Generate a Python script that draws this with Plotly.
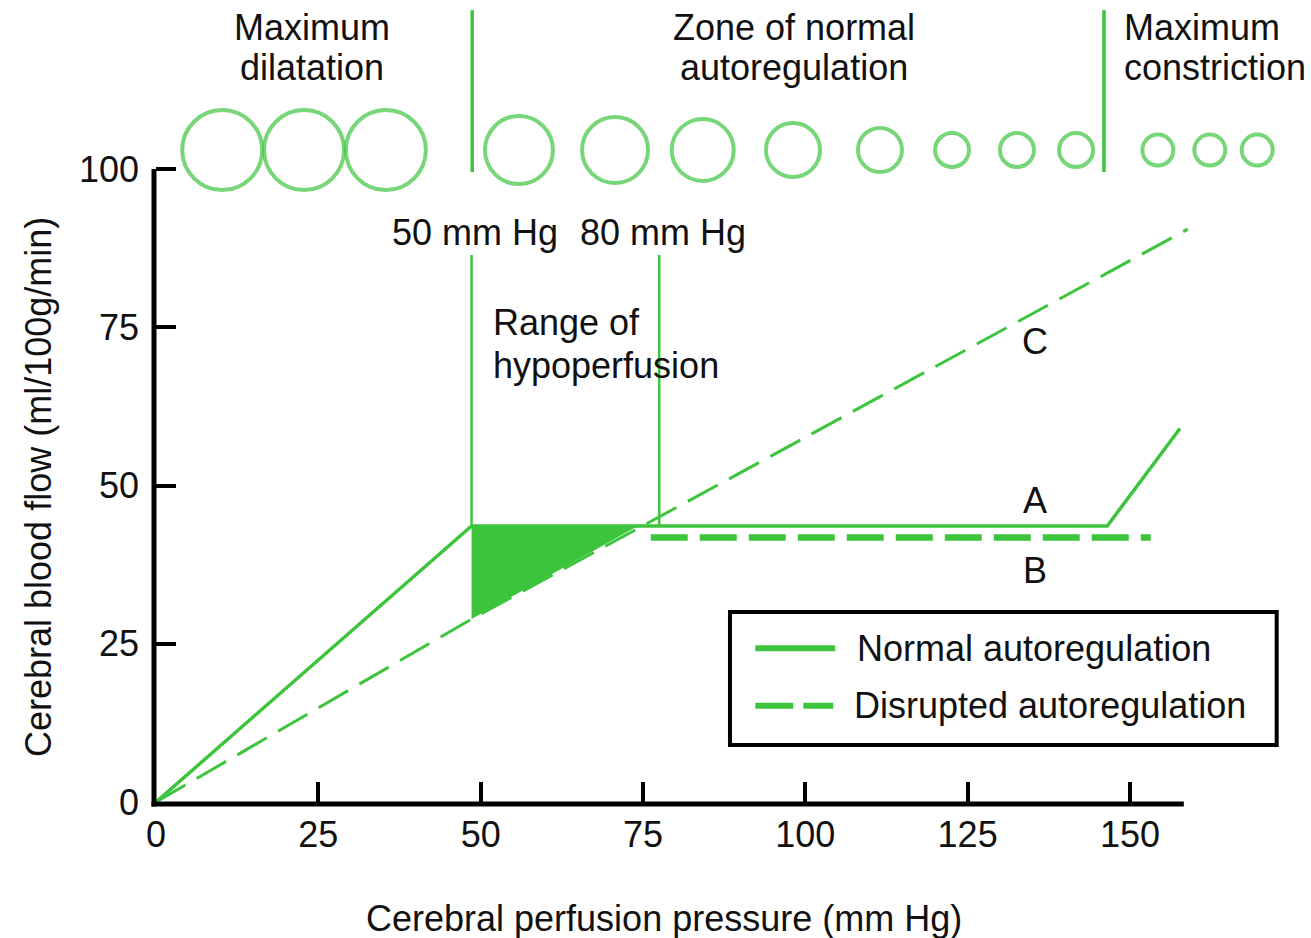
import plotly.graph_objects as go

# ---------------- data ----------------
GREEN = "#3dc43d"
INK = "#111111"
FONT = "Liberation Sans, Arial, Helvetica, sans-serif"

x_ticks = [0, 25, 50, 75, 100, 125, 150]
y_ticks = [0, 25, 50, 75, 100]
x_title = "Cerebral perfusion pressure (mm Hg)"
y_title = "Cerebral blood flow (ml/100g/min)"

# Normal autoregulation (curve A)
normal_x = [0, 48.6, 146.5, 157.7]
normal_y = [0, 43.6, 43.6, 59.0]

# Disrupted autoregulation, pressure-passive curve C
disrupted_c_x = [0, 48.6, 158.9]
disrupted_c_y = [0, 28.9, 90.5]

# Disrupted autoregulation, curve B
disrupted_b_x = [76.2, 153.2]
disrupted_b_y = [41.8, 41.8]

# Range of hypoperfusion (filled wedge)
hypo_x = [48.6, 48.6, 74.2, 48.6]
hypo_y = [43.6, 28.9, 43.6, 43.6]

# 50 / 80 mm Hg markers
threshold_x = [48.6, 77.5]
threshold_labels = ["50 mm Hg", "80 mm Hg"]
threshold_bottom = 43.6
threshold_top = 86.4

# Vessel calibre sketches (pressure position, outer diameter in px)
vessel_x = [10.2, 22.8, 35.4, 55.9, 70.7, 84.2, 98.1, 111.5, 122.6, 132.6, 141.7, 154.3, 162.3, 169.6]
vessel_d = [84, 84, 84, 72, 70, 66, 58, 48, 38, 38, 38, 35, 35, 35]
vessel_y = 103.0

# zone separators at the top
zone_sep_x = [48.7, 146.0]
zone_sep_y = [99.5, 125.1]

curve_labels = ["C", "A", "B"]
curve_label_y = [72.7, 47.7, 36.5]
curve_label_x = 135.4

# ---------------- geometry ----------------
W, H = 1311, 938
L, B = 156, 136
PX_X, PX_Y = 6.493, 6.33
XMAX = (W - L) / PX_X
YMAX = (H - B) / PX_Y

fig = go.Figure()

# hypoperfusion wedge
fig.add_trace(go.Scatter(x=hypo_x, y=hypo_y, mode="lines", fill="toself",
                         fillcolor=GREEN, line=dict(width=0, color=GREEN),
                         hoverinfo="skip", showlegend=False))

# threshold vertical lines
tx, ty = [], []
for v in threshold_x:
    tx += [v, v, None]
    ty += [threshold_bottom, threshold_top, None]
fig.add_trace(go.Scatter(x=tx, y=ty, mode="lines",
                         line=dict(color=GREEN, width=2.5),
                         hoverinfo="skip", showlegend=False))

# zone separators
sx, sy = [], []
for v in zone_sep_x:
    sx += [v, v, None]
    sy += [zone_sep_y[0], zone_sep_y[1], None]
fig.add_trace(go.Scatter(x=sx, y=sy, mode="lines",
                         line=dict(color=GREEN, width=3.5),
                         hoverinfo="skip", showlegend=False, cliponaxis=False))

# disrupted C
fig.add_trace(go.Scatter(x=disrupted_c_x, y=disrupted_c_y, mode="lines",
                         name="Disrupted autoregulation",
                         line=dict(color=GREEN, width=3, dash="34px,13px"),
                         showlegend=False))
# disrupted B
fig.add_trace(go.Scatter(x=disrupted_b_x, y=disrupted_b_y, mode="lines",
                         line=dict(color=GREEN, width=6.5, dash="37px,12px"),
                         showlegend=False))
# normal A
fig.add_trace(go.Scatter(x=normal_x, y=normal_y, mode="lines",
                         name="Normal autoregulation",
                         line=dict(color=GREEN, width=3.5),
                         showlegend=False))

# vessels
fig.add_trace(go.Scatter(x=vessel_x, y=[vessel_y] * len(vessel_x), mode="markers",
                         marker=dict(symbol="circle-open", size=[d - 4 for d in vessel_d],
                                     color=GREEN, line=dict(color=GREEN, width=4)),
                         hoverinfo="skip", showlegend=False, cliponaxis=False))

shapes = []
# axis lines (paper refs so they are not clipped)
shapes.append(dict(type="line", xref="paper", yref="paper",
                   x0=-4.5 / (W - L), x1=158.3 / XMAX, y0=-2 / (H - B), y1=-2 / (H - B),
                   line=dict(color="black", width=5)))
shapes.append(dict(type="line", xref="paper", yref="paper",
                   x0=-2 / (W - L), x1=-2 / (W - L), y0=-4.5 / (H - B), y1=100 / YMAX,
                   line=dict(color="black", width=5)))
# legend box and keys
shapes.append(dict(type="rect", xref="x", yref="y", x0=88.4, x1=172.6, y0=9.0, y1=30.0,
                   line=dict(color="black", width=4), fillcolor="rgba(0,0,0,0)"))
shapes.append(dict(type="line", xref="x", yref="y", x0=92.3, x1=104.6, y0=24.3, y1=24.3,
                   line=dict(color=GREEN, width=6)))
shapes.append(dict(type="line", xref="x", yref="y", x0=92.3, x1=104.3, y0=15.2, y1=15.2,
                   line=dict(color=GREEN, width=6, dash="38px,10px")))

ann = []
def text(x, y, s, xanchor="center", size=36, xref="x", yref="y", angle=0):
    ann.append(dict(x=x, y=y, xref=xref, yref=yref, text=s, showarrow=False,
                    xanchor=xanchor, yanchor="middle", textangle=angle,
                    font=dict(family=FONT, size=size, color=INK)))

# top zone labels
text(24.0, 122.3, "Maximum")
text(24.0, 116.0, "dilatation")
text(98.3, 122.3, "Zone of normal")
text(98.3, 116.0, "autoregulation")
text(148.8, 122.3, "Maximum", xanchor="left")
text(148.8, 116.0, "constriction", xanchor="left")
# thresholds
for v, s in zip(threshold_x, threshold_labels):
    text(v + 0.6, 89.9, s)
text(51.6, 75.8, "Range of", xanchor="left")
text(51.6, 69.0, "hypoperfusion", xanchor="left")
for s, yv in zip(curve_labels, curve_label_y):
    text(curve_label_x, yv, s)
# legend texts
text(107.7, 24.3, "Normal autoregulation", xanchor="left")
text(107.2, 15.2, "Disrupted autoregulation", xanchor="left")
# axis titles
text((664 - L) / (W - L), (H - B - 918) / (H - B), x_title, xref="paper", yref="paper")
text((38 - L) / (W - L), (H - B - 487) / (H - B), y_title, xref="paper", yref="paper", angle=-90)

fig.update_layout(
    width=W, height=H,
    margin=dict(l=L, r=0, t=0, b=B, pad=0),
    paper_bgcolor="white", plot_bgcolor="white",
    shapes=shapes, annotations=ann, showlegend=False,
    font=dict(family=FONT, color=INK, size=36),
    hovermode=False,
)
fig.update_xaxes(range=[0, XMAX], showgrid=False, zeroline=False, showline=False,
                 tickmode="array", tickvals=x_ticks, ticktext=[str(v) for v in x_ticks],
                 ticks="inside", ticklen=20, tickwidth=4, tickcolor="black",
                 ticklabelstandoff=8,
                 tickfont=dict(size=36, family=FONT, color=INK),
                 automargin=False, fixedrange=True)
fig.update_yaxes(range=[0, YMAX], showgrid=False, zeroline=False, showline=False,
                 tickmode="array", tickvals=y_ticks, ticktext=[str(v) for v in y_ticks],
                 ticks="inside", ticklen=20, tickwidth=4, tickcolor="black",
                 ticklabelstandoff=16,
                 tickfont=dict(size=36, family=FONT, color=INK),
                 automargin=False, fixedrange=True)

fig.write_html("out.html", config={"displayModeBar": False},
               post_script="document.body.style.margin='0';document.body.style.overflow='hidden';")
